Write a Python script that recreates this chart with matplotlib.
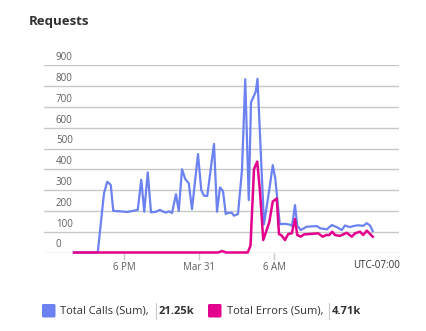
import matplotlib.pyplot as plt
from matplotlib.patches import FancyBboxPatch
from matplotlib.lines import Line2D
import matplotlib.transforms as mtransforms

plt.rcParams['font.family'] = ['Open Sans', 'DejaVu Sans']

# hours relative to Mar 31 00:00 (UTC-07:00)
calls_hours = [-10.0, -8.10, -7.60, -7.34, -7.06, -6.86, -6.32, -5.76, -5.28, -4.90,
               -4.62, -4.38, -4.10, -3.84, -3.44, -3.12, -2.88, -2.64, -2.40, -2.16,
               -1.84, -1.62, -1.36, -1.10, -0.82, -0.56, -0.08, 0.18, 0.40, 0.66,
               1.20, 1.44, 1.68, 1.92, 2.14, 2.32, 2.62, 2.80, 3.12, 3.44,
               3.70, 3.98, 4.16, 4.54, 4.68, 5.20, 5.62, 5.90, 6.10, 6.46,
               6.88, 7.34, 7.44, 7.68, 7.86, 8.14, 8.62, 9.42, 9.68, 10.22,
               10.62, 11.02, 11.42, 11.68, 12.08, 12.34, 12.74, 13.14, 13.42, 13.68,
               13.90]
calls = [0, 0, 285, 340, 325, 200, 198, 195, 200, 205,
         350, 196, 385, 193, 196, 205, 197, 192, 198, 190,
         280, 200, 400, 353, 333, 208, 473, 300, 273, 272,
         522, 196, 313, 295, 185, 191, 191, 177, 185, 397,
         833, 252, 722, 773, 835, 136, 300, 420, 357, 136,
         138, 133, 127, 228, 129, 108, 124, 127, 117, 111,
         132, 122, 108, 130, 122, 127, 131, 128, 141, 130,
         103]

errors_hours = [-10.0, 1.52, 1.86, 2.16, 3.90, 4.12, 4.40, 4.66, 4.88, 5.14,
                5.62, 5.90, 6.22, 6.40, 6.62, 6.88, 7.14, 7.42, 7.68, 7.86,
                8.14, 8.40, 9.54, 9.90, 10.16, 10.42, 10.66, 10.88, 11.28, 11.82,
                12.22, 12.48, 12.88, 13.14, 13.42, 13.68, 13.90]
errors = [0, 0, 7, 0, 0, 33, 401, 437, 292, 60,
          145, 245, 260, 89, 81, 60, 89, 92, 161, 84,
          76, 87, 92, 76, 84, 84, 100, 84, 80, 95,
          76, 92, 100, 84, 105, 89, 76]

y_ticks = [0, 100, 200, 300, 400, 500, 600, 700, 800, 900]
x_ticks = [-6, 0, 6]
x_labels = ['6 PM', 'Mar 31', '6 AM']

blue = '#6b82f0'
pink = '#e3008c'
grid = '#c8c8c8'
label_col = '#605e5c'

W, H = 426, 331
fig = plt.figure(figsize=(W / 100, H / 100), dpi=100)
ax = fig.add_axes([44 / W, 1 - 252.5 / H, 355 / W, 187.2 / H])

for v in y_ticks:
    ax.axhline(v, color=grid, lw=1.0, zorder=1)
ax.plot(calls_hours, calls, color=blue, lw=1.6, zorder=3, clip_on=False,
        solid_joinstyle='round')
ax.plot(errors_hours, errors, color=pink, lw=1.8, zorder=4, clip_on=False,
        solid_joinstyle='round')

ax.set_xlim(-12.4, 16.0)
ax.set_ylim(0, 900)
for s in ax.spines.values():
    s.set_visible(False)
ax.set_yticks([])
ax.set_xticks(x_ticks)
ax.set_xticklabels(x_labels, fontsize=7, color=label_col)
ax.tick_params(axis='x', length=5, width=1, color=grid, pad=2)

# y labels sit just above their gridlines
trans = mtransforms.blended_transform_factory(ax.transAxes, ax.transData)
trans = mtransforms.offset_copy(trans, fig=fig, x=0, y=1.5, units='points')
for v in y_ticks:
    ax.text(12 / 355, v, str(v), transform=trans, fontsize=7, color=label_col,
            ha='left', va='bottom')

fig.text(400 / W, 1 - 265.5 / H, 'UTC-07:00', fontsize=7, color='#323130',
         ha='right', va='center')

fig.text(29 / W, 1 - 21.5 / H, 'Requests', fontsize=9.5, fontweight='bold',
         color='#323130', ha='left', va='center')

# legend
ly = 1 - 311 / H
for x0, col in [(42, blue), (208, pink)]:
    fig.patches.append(FancyBboxPatch((x0 / W, 1 - 317.5 / H), 13.5 / W, 13.5 / H,
                                      boxstyle='round,pad=0,rounding_size=0.004',
                                      transform=fig.transFigure, fc=col, ec='none'))
fig.text(60 / W, ly, 'Total Calls (Sum),', fontsize=8, color='#323130', va='center')
fig.text(159 / W, ly, '21.25k', fontsize=8, fontweight='bold', color='#323130', va='center')
fig.text(227 / W, ly, 'Total Errors (Sum),', fontsize=8, color='#323130', va='center')
fig.text(332 / W, ly, '4.71k', fontsize=8, fontweight='bold', color='#323130', va='center')
for xs in [156, 329]:
    fig.lines.append(Line2D([xs / W, xs / W], [1 - 303 / H, 1 - 319 / H],
                            transform=fig.transFigure, color='#c8c8c8', lw=0.8))

fig.savefig('out.png', dpi=100)
